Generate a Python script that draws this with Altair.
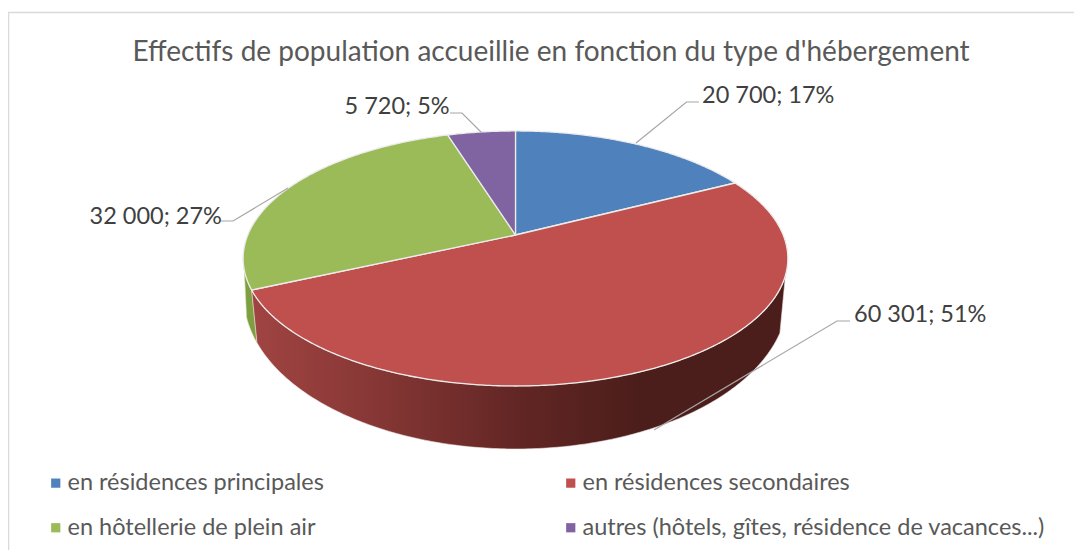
import math
import altair as alt

# ---- values ----
categories = ["en résidences principales", "en hôtellerie de plein air",
              "en résidences secondaires", "autres (hôtels, gîtes, résidence de vacances...)"]
pie_order = [0, 2, 1, 3]   # clockwise from 12 o'clock
values = [20700, 32000, 60301, 5720]
labels = ["20 700; 17%", "32 000; 27%", "60 301; 51%", "5 720; 5%"]
colors = ["#4F81BD", "#9BBB59", "#C0504D", "#8064A2"]
title = "Effectifs de population accueillie en fonction du type d'hébergement"

# ---- layout (picture pixels) ----
W, H = 1066, 542
OX, OY = 8, 8
APEX = (515.5, 235.0)
A, B, K = 267.7, 123.2, 0.184        # perspective of the pie's top face
BOT = (516.0, 296.0, 272.0, 153.0)   # lower rim: cx, cy, rx, ry
label_x = [702, 89.5, 854, 344.5]
label_y = [96, 217, 315, 107]
leaders = [
    [(699, 102), (686.5, 102), (636, 143)],
    [(221, 221), (233, 221), (288, 188)],
    [(850, 321), (837, 321), (654, 430)],
    [(450, 113), (462, 113), (481, 132)],
]


def rim(deg):
    t = math.radians(deg)
    d = 1 + K * math.cos(t)
    return [APEX[0] + A * math.sin(t) / d, APEX[1] - B * math.cos(t) / d]


def lower(deg):
    t = math.radians(deg)
    return [BOT[0] + BOT[2] * math.sin(t), BOT[1] - BOT[3] * math.cos(t)]


def poly(name, pts):
    pts = pts + [pts[0]]
    return {"type": "Feature", "properties": {"name": name},
            "geometry": {"type": "Polygon", "coordinates": [pts]}}


def shapes(features):
    return alt.Data(values={"type": "FeatureCollection", "features": features},
                    format=alt.DataFormat(property="features", type="json"))


PROJ = dict(type="identity", scale=1, translate=[-OX, -OY])
total = sum(values)
cum = [0.0]
for k in pie_order:
    cum.append(cum[-1] + values[k] / total * 360)

wedges = []
for i, k in enumerate(pie_order):
    n = max(4, int((cum[i + 1] - cum[i]) * 2))
    arc = [rim(cum[i] + (cum[i + 1] - cum[i]) * j / n) for j in range(n + 1)]
    wedges.append(poly(categories[k], [list(APEX)] + arc))

red_end = cum[2]
# red side wall: upper rim from the right silhouette to the red/green join, lower rim back
upper_pts = [rim(108 + (red_end - 108) * j / 200) for j in range(201)]
lo_left = 180 + math.degrees(math.asin((BOT[0] - 257) / BOT[2]))
lo_right = 104
lower_pts = [lower(lo_left + (lo_right - lo_left) * j / 200) for j in range(201)]
wall = poly("wall", upper_pts + lower_pts)
green_upper = [rim(red_end + (262 - red_end) * j / 30) for j in range(31)]
green_wall = poly("green wall", green_upper + [lower(lo_left + (262 - lo_left) * j / 10) for j in range(10, -1, -1)])

wall_fill = alt.Gradient(
    gradient="linear", x1=0, x2=1, y1=0, y2=0,
    stops=[alt.GradientStop(offset=0, color="#A04442"),
           alt.GradientStop(offset=0.2, color="#8A3937"),
           alt.GradientStop(offset=0.5, color="#622624"),
           alt.GradientStop(offset=0.72, color="#4C1E1B"),
           alt.GradientStop(offset=1, color="#4C1E1B")])

x_scale = alt.Scale(domain=[OX, OX + W], range=[0, W])
y_scale = alt.Scale(domain=[OY, OY + H], range=[0, H])

green_layer = alt.Chart(shapes([green_wall])).mark_geoshape(
    fill="#7E9E3F", stroke="#C9D8A8", strokeWidth=0.6).project(**PROJ)
wall_layer = alt.Chart(shapes([wall])).mark_geoshape(
    fill=wall_fill, stroke="#EFE3E3", strokeWidth=0.6).project(**PROJ)
pie_layer = alt.Chart(shapes(wedges)).mark_geoshape(
    stroke="#ECECEC", strokeWidth=1.3, strokeJoin="round").encode(
    color=alt.Color(
        "properties.name:N",
        scale=alt.Scale(domain=categories, range=colors),
        legend=alt.Legend(
            orient="none", legendX=36, legendY=463, columns=2, title=None,
            symbolType="square", symbolSize=85, symbolStrokeWidth=0,
            labelFont="Lato", labelFontSize=23.5, labelColor="#595959",
            labelLimit=600, labelOffset=0, rowPadding=20, columnPadding=235,
            symbolOffset=0),
    )).project(**PROJ)

leader_rows = []
for i, pts in enumerate(leaders):
    for j, (x, y) in enumerate(pts):
        leader_rows.append({"g": i, "o": j, "x": x, "y": y})
leader_layer = alt.Chart(alt.Data(values=leader_rows)).mark_line(
    color="#A6A6A6", strokeWidth=1.2).encode(
    x=alt.X("x:Q", scale=x_scale, axis=None),
    y=alt.Y("y:Q", scale=y_scale, axis=None),
    detail="g:N", order="o:Q")

label_rows = [{"t": t, "x": x, "y": y} for t, x, y in zip(labels, label_x, label_y)]
label_layer = alt.Chart(alt.Data(values=label_rows)).mark_text(
    align="left", baseline="middle", font="Lato", fontSize=23.5, color="#404040").encode(
    x=alt.X("x:Q", scale=x_scale, axis=None),
    y=alt.Y("y:Q", scale=y_scale, axis=None),
    text="t:N")

frame_rows = [{"o": 0, "x": OX + 0.5, "y": OY + H}, {"o": 1, "x": OX + 0.5, "y": 12.5},
              {"o": 2, "x": OX + W, "y": 12.5}]
frame_layer = alt.Chart(alt.Data(values=frame_rows)).mark_line(
    color="#D9D9D9", strokeWidth=1.5).encode(
    x=alt.X("x:Q", scale=x_scale, axis=None),
    y=alt.Y("y:Q", scale=y_scale, axis=None),
    order="o:Q")

chart = alt.layer(frame_layer, green_layer, wall_layer, pie_layer, leader_layer, label_layer).properties(
    width=W, height=H, padding=0, background="white",
    autosize=alt.AutoSizeParams(type="none"),
    title=alt.TitleParams(title, anchor="middle", font="Lato", fontSize=28, fontWeight="normal",
                          color="#595959", dx=10, dy=63),
).configure_view(stroke=None)

chart.save("out.html", embed_options={"renderer": "svg", "actions": False})
